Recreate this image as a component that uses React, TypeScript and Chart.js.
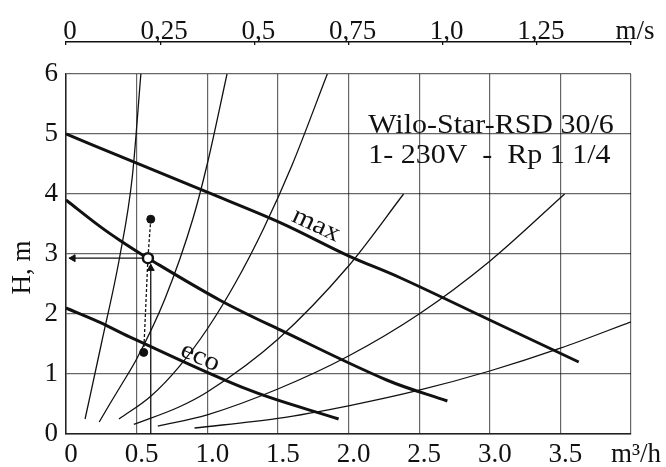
import { useEffect, useRef } from 'react';
import { Chart, registerables } from 'chart.js';
Chart.register(...registerables);

const SERIF = "'Liberation Serif', 'Times New Roman', Times, serif";

// axis ticks
const flowTicks = [0, 0.5, 1, 1.5, 2, 2.5, 3, 3.5, 4];
const flowLabels = ['0', '0.5', '1.0', '1.5', '2.0', '2.5', '3.0', '3.5', 'm³/h'];
const headTicks = [0, 1, 2, 3, 4, 5, 6];
const speedTicks = [0, 0.25, 0.5, 0.75, 1.0, 1.25, 1.5];
const speedLabels = ['0', '0,25', '0,5', '0,75', '1,0', '1,25', 'm/s'];

// pump curves (Q m3/h, H m)
const maxQ = [0, 0.38, 1.0, 1.52, 2.0, 2.37, 3.0, 3.63];
const maxH = [5.0, 4.63, 4.03, 3.52, 2.97, 2.6, 1.9, 1.2];
const midQ = [0, 0.24, 0.38, 0.58, 1.09, 1.52, 2.27, 2.7];
const midH = [3.9, 3.46, 3.23, 2.93, 2.23, 1.73, 0.9, 0.55];
const ecoQ = [0, 0.24, 0.45, 1.3, 1.93];
const ecoH = [2.1, 1.86, 1.62, 0.73, 0.25];

// system curves
const sys1Q = [0.135, 0.25, 0.38, 0.47, 0.53];
const sys1H = [0.25, 1.5, 2.95, 4.3, 6.0];
const sys2Q = [0.235, 0.31, 0.4, 0.5, 0.7, 0.9, 1.0, 1.14];
const sys2H = [0.2, 0.5, 0.85, 1.25, 2.25, 3.6, 4.5, 6.0];
const sys3Q = [0.375, 0.6, 0.8, 1.0, 1.2, 1.4, 1.6, 1.85];
const sys3H = [0.25, 0.63, 1.12, 1.75, 2.52, 3.43, 4.48, 6.0];
const sys4Q = [0.48, 0.8, 1.0, 1.5, 2.0, 2.39];
const sys4H = [0.16, 0.45, 0.7, 1.58, 2.8, 4.0];
const sys5Q = [0.65, 1.0, 1.5, 2.0, 2.5, 3.0, 3.53];
const sys5H = [0.13, 0.32, 0.75, 1.3, 2.0, 2.88, 4.0];
const sys6Q = [0.91, 1.5, 2.0, 2.5, 3.0, 3.5, 4.0];
const sys6H = [0.1, 0.26, 0.47, 0.73, 1.05, 1.43, 1.87];

// operating point construction
const opQ = 0.58;
const opH = 2.93;
const upperDot = [0.6, 3.58];
const lowerDot = [0.55, 1.36];
const riserQ = 0.6;

const zip = (q: number[], h: number[]) => q.map((v, i) => ({ x: v, y: h[i] }));

const thick = (q: number[], h: number[]) => ({
  data: zip(q, h),
  borderColor: '#111',
  borderWidth: 3,
  pointRadius: 0,
  tension: 0.35,
  order: 5,
});
const thin = (q: number[], h: number[]) => ({
  data: zip(q, h),
  borderColor: '#111',
  borderWidth: 1.3,
  pointRadius: 0,
  cubicInterpolationMode: 'monotone' as const,
  order: 6,
});

const labelsPlugin = {
  id: 'labels',
  afterDatasetsDraw(chart: any) {
    const { ctx, scales } = chart;
    const x = scales.x;
    const y = scales.y;
    ctx.save();
    ctx.fillStyle = '#111';
    ctx.font = `27px ${SERIF}`;
    ctx.textAlign = 'left';
    ctx.textBaseline = 'alphabetic';
    const box = (txt: string, q: number, h: number) => {
      ctx.save();
      ctx.translate(x.getPixelForValue(q), y.getPixelForValue(h));
      ctx.scale(1.11, 1);
      ctx.fillText(txt, 0, 0);
      ctx.restore();
    };
    box('Wilo-Star-RSD 30/6', 2.14, 5.02);
    box('1- 230V  -  Rp 1 1/4', 2.14, 4.51);
    const rot = (txt: string, q: number, h: number, deg: number) => {
      ctx.save();
      ctx.translate(x.getPixelForValue(q), y.getPixelForValue(h));
      ctx.rotate((deg * Math.PI) / 180);
      ctx.scale(1.12, 1);
      ctx.textAlign = 'center';
      ctx.textBaseline = 'middle';
      ctx.font = `26px ${SERIF}`;
      ctx.fillText(txt, 0, 0);
      ctx.restore();
    };
    rot('max', 1.77, 3.48, 25);
    rot('eco', 0.95, 1.28, 24);
    ctx.restore();
  },
};

export default function App() {
  const ref = useRef<HTMLCanvasElement>(null);
  useEffect(() => {
    if (!ref.current) return;
    const tickFont = { family: SERIF, size: 27 };
    const chart = new Chart(ref.current, {
      type: 'line',
      data: {
        datasets: [
          thick(maxQ, maxH),
          thick(midQ, midH),
          thick(ecoQ, ecoH),
          thin(sys1Q, sys1H),
          thin(sys2Q, sys2H),
          thin(sys3Q, sys3H),
          thin(sys4Q, sys4H),
          thin(sys5Q, sys5H),
          thin(sys6Q, sys6H),
          {
            data: [{ x: riserQ, y: 0 }, { x: riserQ, y: opH - 0.1 }],
            borderColor: '#111', borderWidth: 1.3, pointRadius: 0, order: 3,
          },
          {
            data: [{ x: riserQ, y: opH - 0.17 }],
            showLine: false, pointStyle: 'triangle', pointRadius: 4, rotation: 0,
            backgroundColor: '#111', borderColor: '#111', borderWidth: 1, order: 2,
          },
          {
            data: [{ x: opQ, y: opH }, { x: 0.02, y: opH }],
            borderColor: '#111', borderWidth: 1.3, pointRadius: 0, order: 3,
          },
          {
            data: [{ x: 0.05, y: opH }],
            showLine: false, pointStyle: 'triangle', pointRadius: 4, rotation: -90,
            backgroundColor: '#111', borderColor: '#111', borderWidth: 1, order: 2,
          },
          {
            data: [{ x: upperDot[0], y: upperDot[1] }, { x: opQ, y: opH }, { x: lowerDot[0], y: lowerDot[1] }],
            borderColor: '#111', borderWidth: 1.3, borderDash: [3, 2], pointRadius: 0, order: 3,
          },
          {
            data: [{ x: upperDot[0], y: upperDot[1] }, { x: lowerDot[0], y: lowerDot[1] }],
            showLine: false, pointRadius: 4, backgroundColor: '#111', borderColor: '#111', order: 1,
          },
          {
            data: [{ x: opQ, y: opH }],
            showLine: false, pointRadius: 5, backgroundColor: '#fff', borderColor: '#111', borderWidth: 2.5, order: 0,
          },
        ] as any,
      },
      options: {
        animation: false,
        responsive: false,
        layout: { padding: { left: 0, right: 35, top: 0, bottom: 0 } },
        plugins: { legend: { display: false }, tooltip: { enabled: false } },
        scales: {
          x: {
            type: 'linear',
            position: 'bottom',
            min: 0,
            max: 4,
            afterBuildTicks: (s: any) => { s.ticks = flowTicks.map((v) => ({ value: v })); },
            afterFit: (s: any) => { s.height = 33; },
            grid: { color: 'rgba(0,0,0,0.6)', lineWidth: 1.2, drawTicks: false },
            border: { display: true, color: '#222', width: 1.5 },
            ticks: {
              font: tickFont, color: '#111', padding: 5, maxRotation: 0, autoSkip: false, labelOffset: 5,
              callback: (_v: any, i: number) => flowLabels[i],
            },
          },
          y: {
            type: 'linear',
            position: 'left',
            min: 0,
            max: 6,
            afterBuildTicks: (s: any) => { s.ticks = headTicks.map((v) => ({ value: v })); },
            afterFit: (s: any) => { s.width = 66; },
            grid: { color: 'rgba(0,0,0,0.6)', lineWidth: 1.2, drawTicks: false },
            border: { display: true, color: '#222', width: 1.5 },
            ticks: { font: tickFont, color: '#111', padding: 8, autoSkip: false },
            title: {
              display: true,
              text: 'H, m\u00A0\u00A0\u00A0\u00A0',
              font: { family: SERIF, size: 27 },
              color: '#111',
              padding: { top: 7, bottom: 0 },
            },
          },
          gap: {
            type: 'linear',
            position: 'top',
            weight: 0,
            min: 0,
            max: 1,
            grid: { display: false, drawTicks: false },
            border: { display: false },
            ticks: { display: false },
            afterFit: (s: any) => { s.height = 32; },
          },
          x2: {
            type: 'linear',
            position: 'top',
            weight: 1,
            min: 0,
            max: 1.5,
            afterBuildTicks: (s: any) => { s.ticks = speedTicks.map((v) => ({ value: v })); },
            afterFit: (s: any) => { s.height = 42; },
            grid: { display: true, drawOnChartArea: false, drawTicks: true, tickLength: -3, color: '#111', lineWidth: 1.3 },
            border: { display: true, color: '#111', width: 1.5 },
            ticks: {
              font: tickFont, color: '#111', padding: -3, maxRotation: 0, autoSkip: false, labelOffset: 4,
              callback: (_v: any, i: number) => speedLabels[i],
            },
          },
        } as any,
      },
      plugins: [labelsPlugin],
    });
    return () => chart.destroy();
  }, []);
  return (
    <div style={{ position: 'fixed', left: 0, top: 0, width: 666, height: 467, background: '#fff' }}>
      <canvas ref={ref} width={666} height={467} />
    </div>
  );
}
